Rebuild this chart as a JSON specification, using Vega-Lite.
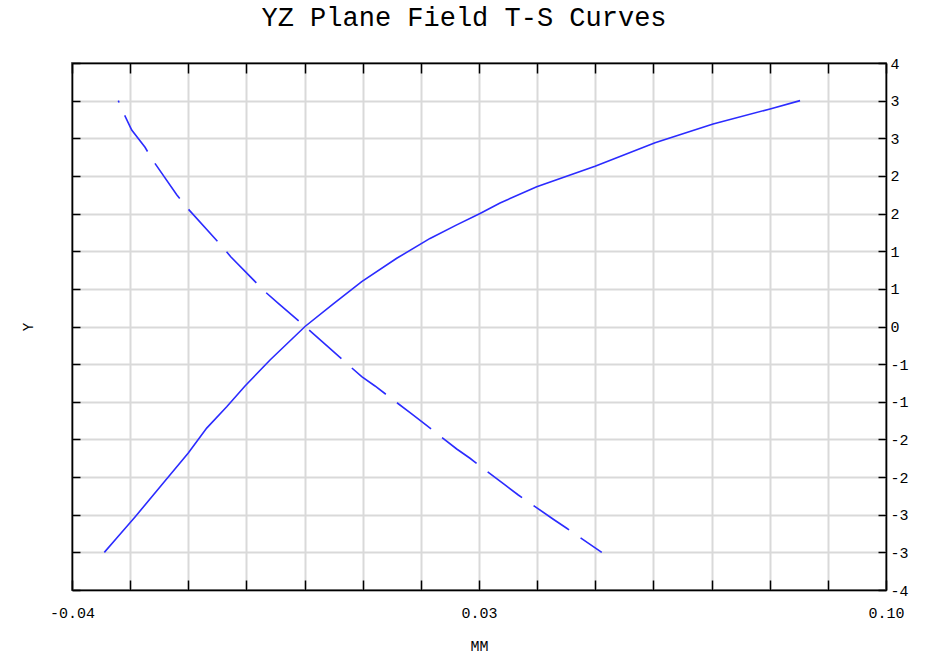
{
  "$schema": "https://vega.github.io/schema/vega-lite/v6.json",
  "width": 814,
  "height": 527,
  "autosize": {"type": "none"},
  "padding": {"left": 72, "top": 63, "right": 49, "bottom": 68},
  "background": "white",
  "config": {
    "view": {"stroke": "#000", "strokeWidth": 1.5},
    "font": "Liberation Mono",
    "axis": {
      "domainColor": "#000",
      "domainWidth": 1.5,
      "tickColor": "#000",
      "tickWidth": 1.5,
      "gridColor": "#d9d9d9",
      "gridWidth": 2,
      "labelFont": "Liberation Mono",
      "labelFontSize": 15,
      "labelColor": "#000",
      "titleFont": "Liberation Mono",
      "titleFontWeight": "normal",
      "titleColor": "#000",
      "titleFontSize": 15
    }
  },
  "title": {
    "text": "YZ Plane Field T-S Curves",
    "font": "Liberation Mono",
    "fontSize": 27,
    "fontWeight": "normal",
    "color": "#000",
    "anchor": "middle",
    "baseline": "alphabetic",
    "offset": 3,
    "dx": -15
  },
  "data": {
    "values": [
      {"curve": "S", "x": -0.03444, "y": -3.0},
      {"curve": "S", "x": -0.0323, "y": -2.81},
      {"curve": "S", "x": -0.02916, "y": -2.53},
      {"curve": "S", "x": -0.0243, "y": -2.08},
      {"curve": "S", "x": -0.02, "y": -1.68},
      {"curve": "S", "x": -0.01683, "y": -1.35},
      {"curve": "S", "x": -0.01339, "y": -1.065},
      {"curve": "S", "x": -0.01024, "y": -0.79},
      {"curve": "S", "x": -0.00594, "y": -0.445},
      {"curve": "S", "x": 0.00008, "y": 0.0},
      {"curve": "S", "x": 0.00494, "y": 0.3},
      {"curve": "S", "x": 0.00983, "y": 0.595},
      {"curve": "S", "x": 0.01585, "y": 0.906},
      {"curve": "S", "x": 0.02158, "y": 1.17},
      {"curve": "S", "x": 0.02617, "y": 1.35},
      {"curve": "S", "x": 0.03018, "y": 1.5},
      {"curve": "S", "x": 0.03362, "y": 1.64},
      {"curve": "S", "x": 0.03993, "y": 1.857},
      {"curve": "S", "x": 0.04996, "y": 2.13},
      {"curve": "S", "x": 0.06028, "y": 2.44},
      {"curve": "S", "x": 0.07026, "y": 2.69},
      {"curve": "S", "x": 0.08006, "y": 2.89},
      {"curve": "S", "x": 0.08522, "y": 3.0},
      {"curve": "T", "x": -0.03204, "y": 3.0},
      {"curve": "T", "x": -0.03118, "y": 2.845},
      {"curve": "T", "x": -0.02973, "y": 2.61},
      {"curve": "T", "x": -0.02744, "y": 2.38},
      {"curve": "T", "x": -0.02612, "y": 2.21},
      {"curve": "T", "x": -0.02199, "y": 1.75},
      {"curve": "T", "x": -0.02, "y": 1.56},
      {"curve": "T", "x": -0.01467, "y": 1.105},
      {"curve": "T", "x": -0.0127, "y": 0.927},
      {"curve": "T", "x": -0.0068, "y": 0.462},
      {"curve": "T", "x": -0.00452, "y": 0.308},
      {"curve": "T", "x": 0.00008, "y": 0.0},
      {"curve": "T", "x": 0.00381, "y": -0.255},
      {"curve": "T", "x": 0.00983, "y": -0.667},
      {"curve": "T", "x": 0.01211, "y": -0.79},
      {"curve": "T", "x": 0.01814, "y": -1.145},
      {"curve": "T", "x": 0.02015, "y": -1.264},
      {"curve": "T", "x": 0.02617, "y": -1.627},
      {"curve": "T", "x": 0.02845, "y": -1.75},
      {"curve": "T", "x": 0.03447, "y": -2.105},
      {"curve": "T", "x": 0.03676, "y": -2.238},
      {"curve": "T", "x": 0.04278, "y": -2.56},
      {"curve": "T", "x": 0.04509, "y": -2.68},
      {"curve": "T", "x": 0.05111, "y": -3.0}
    ]
  },
  "layer": [
    {
      "transform": [{"filter": "datum.curve == 'S'"}],
      "mark": {"type": "line", "color": "#2b2bff", "strokeWidth": 1.6},
      "encoding": {
        "x": {
          "field": "x",
          "type": "quantitative",
          "scale": {"domain": [-0.04, 0.1], "nice": false, "zero": false},
          "axis": {
            "orient": "bottom",
            "title": "MM",
            "values": [-0.04, -0.03, -0.02, -0.01, 0, 0.01, 0.02, 0.03, 0.04, 0.05, 0.06, 0.07, 0.08, 0.09, 0.1],
            "labelExpr": "datum.value == -0.04 ? '-0.04' : (datum.value == 0.03 ? '0.03' : (datum.value == 0.1 ? '0.10' : ''))",
            "grid": true,
            "tickSize": -10,
            "labelPadding": 25,
            "labelFlush": false,
            "labelOverlap": false,
            "titlePadding": 18
          }
        },
        "y": {
          "field": "y",
          "type": "quantitative",
          "scale": {"domain": [-3.5, 3.5], "nice": false, "zero": false},
          "axis": {
            "orient": "left",
            "title": "Y",
            "values": [-3.5, -3, -2.5, -2, -1.5, -1, -0.5, 0, 0.5, 1, 1.5, 2, 2.5, 3, 3.5],
            "labels": false,
            "grid": true,
            "tickSize": -8,
            "titlePadding": 36,
            "titleFontSize": 14
          }
        }
      }
    },
    {
      "transform": [{"filter": "datum.curve == 'T'"}],
      "mark": {"type": "line", "color": "#2b2bff", "strokeWidth": 1.6, "strokeDash": [43, 14], "strokeDashOffset": 41},
      "encoding": {
        "x": {
          "field": "x",
          "type": "quantitative",
          "axis": {
            "orient": "top",
            "title": null,
            "values": [-0.04, -0.03, -0.02, -0.01, 0, 0.01, 0.02, 0.03, 0.04, 0.05, 0.06, 0.07, 0.08, 0.09, 0.1],
            "labels": false,
            "grid": false,
            "tickSize": -10
          }
        },
        "y": {
          "field": "y",
          "type": "quantitative",
          "axis": {
            "orient": "right",
            "title": null,
            "values": [-3.5, -3, -2.5, -2, -1.5, -1, -0.5, 0, 0.5, 1, 1.5, 2, 2.5, 3, 3.5],
            "labelExpr": "datum.value < 0 ? '-' + ceil(-datum.value) : '' + ceil(datum.value)",
            "grid": false,
            "tickSize": -8,
            "labelPadding": 12,
            "labelFlush": false,
            "labelOverlap": false
          }
        }
      }
    }
  ],
  "resolve": {"axis": {"x": "independent", "y": "independent"}}
}
